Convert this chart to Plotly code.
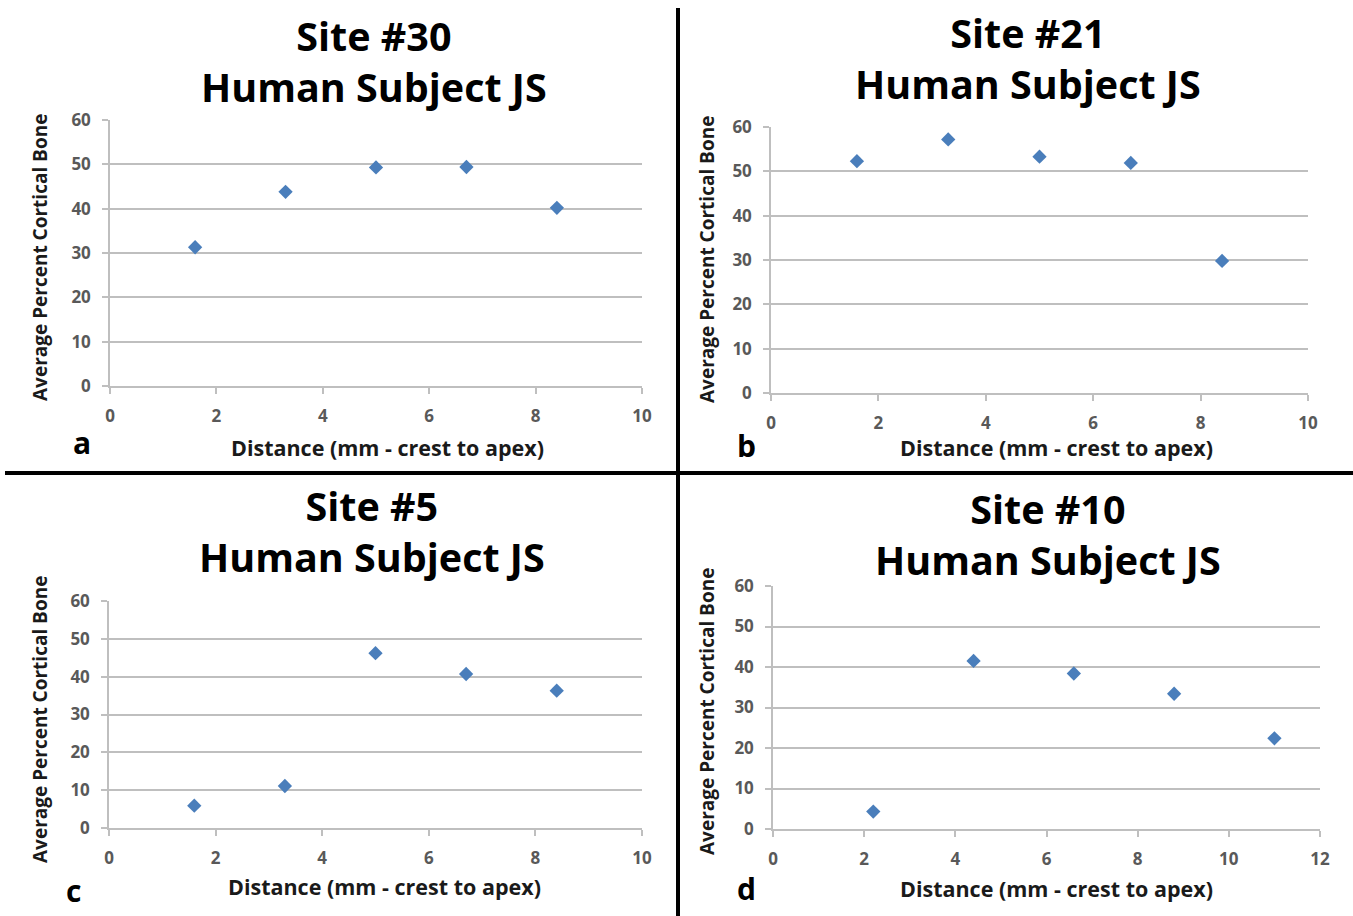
import plotly.graph_objects as go

W, H = 1353, 916

# ---- data ----
x_ab = [1.6, 3.3, 5.0, 6.7, 8.4]
y_a = [31.3, 43.8, 49.3, 49.4, 40.2]
y_b = [52.3, 57.2, 53.3, 51.9, 29.8]
x_c = [1.6, 3.3, 5.0, 6.7, 8.4]
y_c = [5.9, 11.1, 46.2, 40.7, 36.3]
x_d = [2.2, 4.4, 6.6, 8.8, 11.0]
y_d = [4.3, 41.5, 38.4, 33.4, 22.4]

site_titles = ["Site #30", "Site #21", "Site #5", "Site #10"]
subtitle = "Human Subject JS"
panel_letters = ["a", "b", "c", "d"]
x_title = "Distance (mm - crest to apex)"
y_title = "Average Percent Cortical Bone"
x_ranges = [[0, 10], [0, 10], [0, 10], [0, 12]]
y_range = [0, 60]

# ---- layout geometry (pixels) ----
# (x_left, x_right, y_bottom, y_top)
boxes = [(110, 642, 386, 120), (771, 1308, 393, 127), (109, 642, 828, 601), (773, 1320, 829, 586)]
title_pos = [(374, 62), (1028, 59), (372, 531), (1048, 534)]
ytitle_pos = [(40, 258), (707, 260), (40, 720), (707, 712)]
xtitle_pos = [(387, 447), (1056, 447), (384, 886), (1056, 888)]
letter_pos = [(82, 443), (746, 445), (73, 890), (746, 888)]

def px(x):
    return x / W

def py(y):
    return 1 - y / H

fig = go.Figure()
xs = [x_ab, x_ab, x_c, x_d]
ys = [y_a, y_b, y_c, y_d]
MARK = "#4a7ebb"
GRID = "#bfbfbf"
TICKC = "#595959"
FONT = "Open Sans"

for i in range(4):
    sfx = "" if i == 0 else str(i + 1)
    fig.add_trace(go.Scatter(
        x=xs[i], y=ys[i], mode="markers",
        marker=dict(symbol="diamond", size=11, color=MARK),
        xaxis="x" + sfx, yaxis="y" + sfx, showlegend=False,
    ))
    xl, xr, yb, yt = boxes[i]
    fig.layout["xaxis" + sfx] = dict(
        domain=[px(xl), px(xr)], range=x_ranges[i], dtick=2,
        anchor="y" + sfx, showgrid=False, zeroline=False, automargin=False,
        showline=True, linecolor=GRID, linewidth=2,
        ticks="outside", ticklen=6, tickcolor=GRID, tickwidth=1.5,
        ticklabelstandoff=8,
        tickfont=dict(family=FONT, size=17, color=TICKC, weight="bold"), fixedrange=True,
    )
    fig.layout["yaxis" + sfx] = dict(
        domain=[py(yb), py(yt)], range=y_range, dtick=10,
        anchor="x" + sfx, showgrid=True, gridcolor=GRID, gridwidth=2, automargin=False,
        zeroline=False, showline=True, linecolor=GRID, linewidth=1.5,
        ticks="outside", ticklen=6, tickcolor=GRID, tickwidth=1.5,
        ticklabelstandoff=8,
        tickfont=dict(family=FONT, size=17, color=TICKC, weight="bold"), fixedrange=True,
    )

ann = []
for i in range(4):
    ann.append(dict(text="<b>%s<br>%s</b>" % (site_titles[i], subtitle),
                    x=px(title_pos[i][0]), y=py(title_pos[i][1]),
                    font=dict(family=FONT, size=39.5, color="black")))
    ann.append(dict(text="<b>%s</b>" % y_title, x=px(ytitle_pos[i][0]), y=py(ytitle_pos[i][1]),
                    textangle=-90, font=dict(family=FONT, size=19, color="#1a1a1a")))
    ann.append(dict(text="<b>%s</b>" % x_title, x=px(xtitle_pos[i][0]), y=py(xtitle_pos[i][1]),
                    font=dict(family=FONT, size=21.5, color="#1a1a1a")))
    ann.append(dict(text="<b>%s</b>" % panel_letters[i], x=px(letter_pos[i][0]), y=py(letter_pos[i][1]),
                    font=dict(family=FONT, size=30, color="black")))
for a in ann:
    a.update(xref="paper", yref="paper", xanchor="center", yanchor="middle", showarrow=False)

shapes = [
    dict(type="line", xref="paper", yref="paper", x0=px(678), x1=px(678), y0=py(8), y1=py(916),
         line=dict(color="black", width=4)),
    dict(type="line", xref="paper", yref="paper", x0=px(5), x1=px(1353), y0=py(473), y1=py(473),
         line=dict(color="black", width=4)),
]

fig.update_layout(
    width=W, height=H, margin=dict(l=0, r=0, t=0, b=0, pad=0, autoexpand=False),
    paper_bgcolor="white", plot_bgcolor="white",
    annotations=ann, shapes=shapes, showlegend=False,
)

fig.write_html(
    "out.html",
    config={"displayModeBar": False},
    post_script="document.body.style.margin='0';document.body.style.padding='0';document.body.style.overflow='hidden';",
)
